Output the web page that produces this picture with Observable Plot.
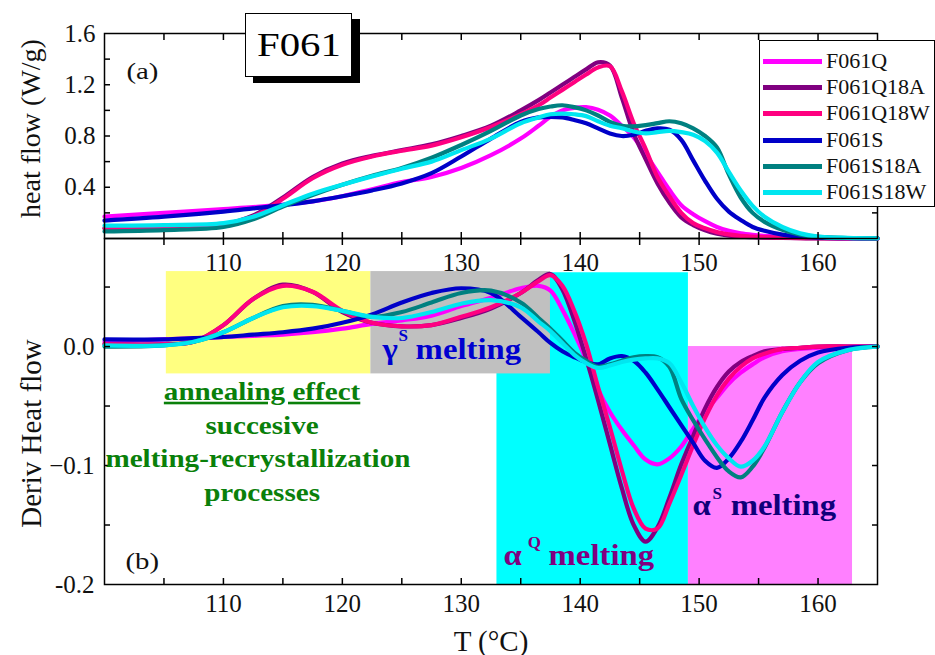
<!DOCTYPE html>
<html>
<head>
<meta charset="utf-8">
<script src="https://cdn.jsdelivr.net/npm/d3@7"></script>
<script src="https://cdn.jsdelivr.net/npm/@observablehq/plot@0.6"></script>
<style>
  html, body { margin: 0; padding: 0; background: #fff; }
  #chart { position: relative; width: 935px; height: 655px; overflow: hidden; font-family: "Liberation Serif", "Times New Roman", serif; }
  #chart svg { position: absolute; left: 0; top: 0; }
  #legend { position: absolute; left: 759px; top: 40px; width: 176px; height: 167px; box-sizing: border-box; border: 1.5px solid #000; background: #fff; }
  .lg-row { position: absolute; left: 0; height: 26px; width: 176px; }
  .lg-line { position: absolute; left: 3px; top: 11px; width: 59px; height: 5px; }
  .lg-text { position: absolute; left: 66px; top: 0; font-size: 22px; line-height: 26px; color: #111; white-space: nowrap; }
  #title { position: absolute; left: 245px; top: 13px; width: 107px; height: 64px; box-sizing: border-box; border: 1.5px solid #000; background: #fff; box-shadow: 8px 6px 0 #000; text-align: center; line-height: 61px; font-size: 34px; }
  #title span { display: inline-block; transform: scaleX(1.2); }
</style>
</head>
<body>
<div id="chart"></div>
<script>
// ---------- data ----------
const seriesNames = ["F061Q", "F061Q18A", "F061Q18W", "F061S", "F061S18A", "F061S18W"];
const seriesColors = ["#ff00ff", "#800080", "#ff0080", "#0000c8", "#008080", "#00e6f0"];

// panel (a): heat flow (W/g)
const tempsTop = [100, 105, 110, 112.5, 115, 117.5, 120, 122.5, 125, 127.5,
  130, 132.5, 135, 136.5, 137.5, 138.5, 139.5, 140.5, 141.5, 142.5,
  143.5, 144.5, 145.5, 146.5, 147.5, 148.5, 149.5, 150.5, 151.5, 152.5,
  153.5, 154.5, 155.5, 157, 158.5, 160, 162.5, 165];
const heatQ = [0.17, 0.20, 0.23, 0.245, 0.265, 0.29, 0.33, 0.385, 0.44, 0.48,
  0.55, 0.65, 0.78, 0.88, 0.95, 1.0, 1.02, 1.025, 1.005, 0.96,
  0.88, 0.79, 0.66, 0.52, 0.38, 0.26, 0.19, 0.135, 0.09, 0.06,
  0.04, 0.028, 0.02, 0.012, 0.007, 0.004, 0.002, 0.001];
const heatQ18A = [0.08, 0.085, 0.11, 0.18, 0.32, 0.48, 0.585, 0.645, 0.69, 0.735,
  0.80, 0.88, 1.0, 1.08, 1.14, 1.20, 1.26, 1.32, 1.375, 1.35,
  1.10, 0.82, 0.62, 0.43, 0.28, 0.165, 0.105, 0.065, 0.038, 0.022,
  0.014, 0.01, 0.007, 0.004, 0.002, 0.001, 0, 0];
const heatQ18W = [0.08, 0.085, 0.11, 0.17, 0.31, 0.47, 0.575, 0.64, 0.685, 0.725,
  0.79, 0.87, 0.97, 1.04, 1.10, 1.16, 1.22, 1.28, 1.335, 1.345,
  1.15, 0.90, 0.70, 0.48, 0.33, 0.20, 0.12, 0.08, 0.05, 0.032,
  0.02, 0.014, 0.01, 0.006, 0.003, 0.002, 0.001, 0];
const heatS = [0.14, 0.17, 0.21, 0.235, 0.26, 0.29, 0.33, 0.375, 0.43, 0.51,
  0.64, 0.78, 0.91, 0.945, 0.95, 0.945, 0.925, 0.90, 0.86, 0.82,
  0.80, 0.81, 0.84, 0.86, 0.85, 0.77, 0.61, 0.45, 0.31, 0.21,
  0.145, 0.09, 0.06, 0.03, 0.015, 0.007, 0.002, 0.001];
const heatS18A = [0.055, 0.065, 0.09, 0.15, 0.25, 0.34, 0.42, 0.49, 0.55, 0.63,
  0.73, 0.84, 0.96, 1.01, 1.03, 1.04, 1.025, 1.0, 0.96, 0.91,
  0.88, 0.875, 0.885, 0.90, 0.915, 0.90, 0.86, 0.80, 0.71, 0.50,
  0.32, 0.20, 0.13, 0.068, 0.03, 0.012, 0.004, 0.001];
const heatS18W = [0.10, 0.105, 0.12, 0.17, 0.26, 0.35, 0.42, 0.485, 0.545, 0.60,
  0.69, 0.78, 0.90, 0.945, 0.97, 0.975, 0.97, 0.955, 0.915, 0.88,
  0.86, 0.835, 0.82, 0.83, 0.84, 0.83, 0.81, 0.76, 0.67, 0.52,
  0.375, 0.255, 0.17, 0.09, 0.04, 0.015, 0.005, 0.002];

// panel (b): derivative of heat flow
const tempsDeriv = [100, 105, 107.5, 110, 112.5, 115, 117.5, 120, 122.5, 125,
  127.5, 130, 132.5, 135, 136.5, 137.5, 138.5, 139.5, 140.5, 141.5,
  142.5, 143.5, 144.5, 145.5, 146.5, 147.5, 148.5, 149.5, 150.5, 151.5,
  152.5, 153.5, 154.5, 155.5, 157, 158.5, 160, 162.5, 165];
const derivQ = [0.004, 0.006, 0.007, 0.008, 0.009, 0.010, 0.012, 0.015, 0.019, 0.022,
  0.026, 0.034, 0.041, 0.049, 0.051, 0.047, 0.031, 0.011, -0.011, -0.036,
  -0.055, -0.070, -0.083, -0.095, -0.099, -0.094, -0.084, -0.069, -0.055, -0.043,
  -0.031, -0.022, -0.015, -0.009, -0.004, -0.002, -0.001, 0, 0];
const derivQ18A = [0.002, 0.002, 0.004, 0.018, 0.040, 0.052, 0.046, 0.029, 0.020, 0.017,
  0.018, 0.024, 0.032, 0.045, 0.056, 0.061, 0.048, 0.022, -0.010, -0.045,
  -0.082, -0.119, -0.150, -0.164, -0.152, -0.127, -0.099, -0.075, -0.052, -0.034,
  -0.021, -0.013, -0.008, -0.004, -0.002, -0.001, 0, 0, 0];
const derivQ18W = [0.002, 0.002, 0.004, 0.018, 0.040, 0.051, 0.046, 0.030, 0.020, 0.017,
  0.018, 0.025, 0.033, 0.045, 0.055, 0.060, 0.051, 0.030, 0.002, -0.034,
  -0.068, -0.104, -0.136, -0.153, -0.153, -0.132, -0.108, -0.083, -0.060, -0.041,
  -0.027, -0.017, -0.010, -0.006, -0.002, -0.001, 0, 0, 0];
const derivS = [0.006, 0.006, 0.007, 0.008, 0.010, 0.012, 0.015, 0.020, 0.027, 0.037,
  0.045, 0.049, 0.045, 0.025, 0.012, 0.003, -0.004, -0.009, -0.013, -0.015,
  -0.010, -0.008, -0.012, -0.022, -0.036, -0.051, -0.066, -0.081, -0.096, -0.102,
  -0.094, -0.080, -0.062, -0.043, -0.024, -0.012, -0.005, -0.001, 0];
const derivS18A = [0.000, 0.001, 0.004, 0.012, 0.024, 0.034, 0.035, 0.030, 0.025, 0.029,
  0.037, 0.045, 0.047, 0.037, 0.024, 0.015, 0.005, -0.005, -0.012, -0.017,
  -0.015, -0.012, -0.009, -0.008, -0.009, -0.017, -0.044, -0.062, -0.078, -0.093,
  -0.105, -0.110, -0.101, -0.085, -0.055, -0.030, -0.014, -0.003, 0];
const derivS18W = [0.001, 0.001, 0.004, 0.012, 0.024, 0.033, 0.034, 0.030, 0.025, 0.024,
  0.029, 0.036, 0.039, 0.033, 0.021, 0.013, 0.003, -0.007, -0.014, -0.018,
  -0.016, -0.013, -0.011, -0.010, -0.010, -0.014, -0.030, -0.050, -0.068, -0.083,
  -0.094, -0.101, -0.096, -0.084, -0.055, -0.030, -0.013, -0.003, 0];

// axes ticks and labels
const xTickValues = [105, 110, 115, 120, 125, 130, 135, 140, 145, 150, 155, 160];
const xTickLabels = [110, 120, 130, 140, 150, 160];
const topYTickValues = [0.2, 0.4, 0.6, 0.8, 1.0, 1.2, 1.4];
const topYLabelValues = [0.4, 0.8, 1.2, 1.6];
const topYLabels = ["0.4", "0.8", "1.2", "1.6"];
const botYTickValues = [-0.15, -0.1, -0.05, 0, 0.05];
const botYLabelValues = [0, -0.1, -0.2];
const botYLabels = ["0.0", "\u22120.1", "-0.2"];

// shaded regions of panel (b) (T from, T to, value from, value to)
const regionT1 = [105.2, 133.0, 149.1, 122.4];
const regionT2 = [122.4, 149.1, 162.9, 137.5];
const regionV1 = [-0.023, -0.2, -0.2, -0.023];
const regionV2 = [0.063, 0.062, 0.0, 0.063];
const regionColors = ["#ffff80", "#00ffff", "#ff80ff", "#c0c0c0"];

// annotations of panel (b)
const greenText = ["annealing effect", "succesive", "melting-recrystallization", "processes"];
const greenT = [113.25, 113.25, 112.9, 113.25];
const greenV = [-0.0448, -0.0734, -0.1014, -0.1300];
const meltGreek = ["\u03b3", "\u03b1", "\u03b1"];
const meltSup = ["S", "Q", "S"];
const meltColors = ["#0000d0", "#800080", "#10007a"];
const greekT = [123.38, 133.56, 149.45];
const supT = [124.73, 135.58, 151.13];
const supV = [0.005, -0.169, -0.128];
const meltT = [126.16, 137.34, 152.65];
const meltV = [-0.0101, -0.184, -0.142];

// ---------- drawing ----------
const FONT = "'Liberation Serif', 'Times New Roman', serif";
const xDomain = [100, 165];
const heatSeries = [heatQ, heatQ18A, heatQ18W, heatS, heatS18A, heatS18W];
const derivSeries = [derivQ, derivQ18A, derivQ18W, derivS, derivS18A, derivS18W];
const LW = 4.2;

function frameTicks(xVals, yVals) {
  const common = {stroke: "#000", strokeWidth: 1.5, fill: "none", tickSize: 6, label: null};
  return [
    Plot.axisX(xVals, {...common, anchor: "bottom", dy: -6}),
    Plot.axisX(xVals, {...common, anchor: "top", dy: 6}),
    Plot.axisY(yVals, {...common, anchor: "left", dx: 6}),
    Plot.axisY(yVals, {...common, anchor: "right", dx: -6})
  ];
}

const topPlot = Plot.plot({
  width: 935, height: 280,
  marginTop: 33, marginBottom: 42, marginLeft: 104, marginRight: 58,
  style: {background: "transparent", overflow: "visible"},
  x: {domain: xDomain, axis: null},
  y: {domain: [0, 1.6], axis: null},
  marks: [
    ...heatSeries.map((vals, s) => Plot.line(tempsTop, {x: d => d, y: vals, stroke: seriesColors[s], strokeWidth: LW, curve: "catmull-rom"})),
    Plot.frame({stroke: "#000", strokeWidth: 1.5}),
    ...frameTicks(xTickValues, topYTickValues),
    Plot.text(xTickLabels, {x: d => d, frameAnchor: "bottom", dy: 24, lineAnchor: "middle", text: d => String(d), fontSize: 25, fontFamily: FONT, fill: "#111"}),
    Plot.text(topYLabelValues, {y: d => d, frameAnchor: "left", dx: -9, textAnchor: "end", lineAnchor: "middle", text: (d, i) => topYLabels[i], fontSize: 25, fontFamily: FONT, fill: "#111"}),
    Plot.text(["heat flow (W/g)"], {frameAnchor: "left", dx: -73, dy: -7.5, rotate: -90, textAnchor: "middle", lineAnchor: "middle", fontSize: 28, fontFamily: FONT, fill: "#111"}),
    Plot.text(["(a)"], {frameAnchor: "top-left", dx: 22, dy: 38, textAnchor: "start", lineAnchor: "middle", fontSize: 24, fontFamily: FONT, fill: "#111"})
  ]
});

const botPlot = Plot.plot({
  width: 935, height: 655,
  marginTop: 238, marginBottom: 71, marginLeft: 104, marginRight: 58,
  style: {background: "transparent", overflow: "visible"},
  x: {domain: xDomain, axis: null},
  y: {domain: [-0.2, 0.0908], axis: null},
  marks: [
    ...regionColors.map((c, i) => Plot.rect([i], {x1: regionT1[i], x2: regionT2[i], y1: regionV1[i], y2: regionV2[i], fill: c})),
    ...derivSeries.map((vals, s) => Plot.line(tempsDeriv, {x: d => d, y: vals, stroke: seriesColors[s], strokeWidth: LW, curve: "catmull-rom"})),
    Plot.frame({stroke: "#000", strokeWidth: 1.5}),
    ...frameTicks(xTickValues, botYTickValues),
    Plot.text(xTickLabels, {x: d => d, frameAnchor: "bottom", dy: 19.5, lineAnchor: "middle", text: d => String(d), fontSize: 25, fontFamily: FONT, fill: "#111"}),
    Plot.text(botYLabelValues, {y: d => d, frameAnchor: "left", dx: -10, textAnchor: "end", lineAnchor: "middle", text: (d, i) => botYLabels[i], fontSize: 25, fontFamily: FONT, fill: "#111"}),
    Plot.text(["Deriv Heat flow"], {frameAnchor: "left", dx: -73, dy: 22, rotate: -90, textAnchor: "middle", lineAnchor: "middle", fontSize: 29, fontFamily: FONT, fill: "#111"}),
    Plot.text(["T (\u00b0C)"], {frameAnchor: "bottom", dy: 66, textAnchor: "middle", lineAnchor: "bottom", fontSize: 29, fontFamily: FONT, fill: "#111"}),
    Plot.text(["(b)"], {frameAnchor: "bottom-left", dx: 21, dy: -23, textAnchor: "start", lineAnchor: "middle", fontSize: 24, fontFamily: FONT, fill: "#111"}),
    Plot.text(greenText, {x: (d, i) => greenT[i], y: (d, i) => greenV[i], text: d => d, textAnchor: "middle", lineAnchor: "bottom", fontSize: 26, fontWeight: "bold", fontFamily: FONT, fill: "#0a800a"}),
    Plot.text(meltGreek, {x: (d, i) => greekT[i], y: (d, i) => meltV[i], text: d => d, textAnchor: "start", lineAnchor: "bottom", fontSize: 29, fontWeight: "bold", fontFamily: FONT, fill: (d, i) => meltColors[i]}),
    Plot.text(meltSup, {x: (d, i) => supT[i], y: (d, i) => supV[i], text: d => d, textAnchor: "start", lineAnchor: "bottom", fontSize: 17, fontWeight: "bold", fontFamily: FONT, fill: (d, i) => meltColors[i]}),
    Plot.text(meltT, {x: d => d, y: (d, i) => meltV[i], text: () => "melting", textAnchor: "start", lineAnchor: "bottom", fontSize: 29, fontWeight: "bold", fontFamily: FONT, fill: (d, i) => meltColors[i]})
  ]
});

// widen some texts horizontally (the reference glyphs are stretched)
function stretch(svg, texts, k) {
  d3.select(svg).selectAll("text").each(function () {
    if (!texts.includes(this.textContent)) return;
    const t = this.getAttribute("transform") || "";
    this.setAttribute("transform", `${t} scale(${k},1)`);
  });
}
stretch(topPlot, ["(a)"], 1.2);
stretch(botPlot, ["(b)"], 1.2);
stretch(botPlot, greenText, 1.12);
stretch(botPlot, ["\u03b3", "\u03b1", "melting"], 1.13);
d3.select(botPlot).selectAll("text")
  .filter(function () { return this.textContent === greenText[0]; })
  .style("text-decoration", "underline")
  .attr("text-decoration", "underline");

const chart = document.getElementById("chart");
chart.appendChild(botPlot);
chart.appendChild(topPlot);

// legend
const legend = document.createElement("div");
legend.id = "legend";
seriesNames.forEach((name, i) => {
  const row = document.createElement("div");
  row.className = "lg-row";
  row.style.top = (7 + i * 26.2) + "px";
  const line = document.createElement("div");
  line.className = "lg-line";
  line.style.background = seriesColors[i];
  const txt = document.createElement("div");
  txt.className = "lg-text";
  txt.textContent = name;
  row.appendChild(line);
  row.appendChild(txt);
  legend.appendChild(row);
});
chart.appendChild(legend);

// title box
const title = document.createElement("div");
title.id = "title";
title.innerHTML = "<span>F061</span>";
chart.appendChild(title);
</script>
</body>
</html>
